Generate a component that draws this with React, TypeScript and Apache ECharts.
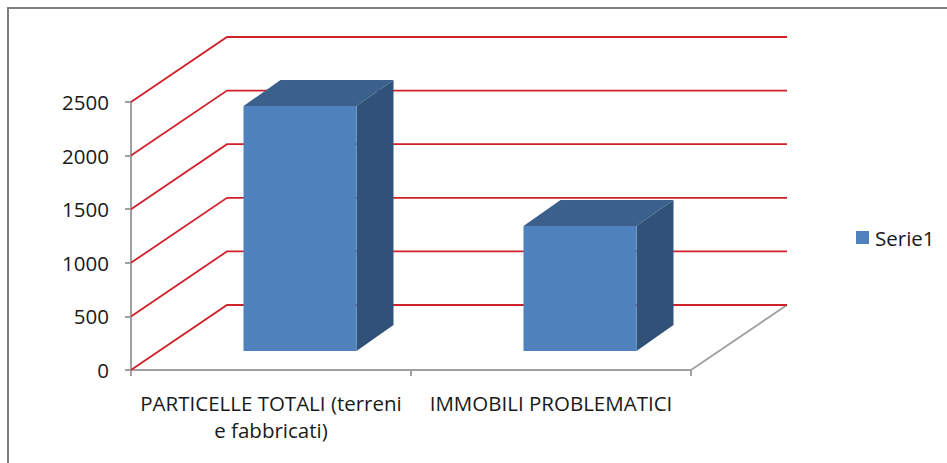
import React, { useEffect, useRef } from "react";
import * as echarts from "echarts";

const categories = ["PARTICELLE TOTALI (terreni\ne fabbricati)", "IMMOBILI PROBLEMATICI"];
const seriesName = "Serie1";
const seriesValues = [2285, 1165];
const gridValues = [0, 500, 1000, 1500, 2000, 2500];

// Oblique projection of the chart's depth axis, in pixels.
const WALL_DX = 96;
const WALL_DY = 65;
const BAR_SHIFT_DX = 29;
const BAR_SHIFT_DY = 19;
const BAR_DEPTH_DX = 37;
const BAR_DEPTH_DY = 26;
const BAR_WIDTH = 113;

const FRONT = "#4f81bd";
const TOP = "#3c608c";
const SIDE = "#315278";
const WALL_LINE = "#d0202a";
const AXIS_GREY = "#a0a0a0";
const TEXT_COLOR = "#1a1a1a";
const LABEL_FONT = "'Open Sans', sans-serif";

const renderWall = (params: any, api: any) => {
  const value = api.value(0);
  const cs = params.coordSys;
  const y = api.coord([0, value])[1];
  const xLeft = cs.x;
  const xRight = cs.x + cs.width;
  const children: any[] = [
    {
      type: "polyline",
      shape: {
        points: [
          [xLeft, y],
          [xLeft + WALL_DX, y - WALL_DY],
          [xRight + WALL_DX, y - WALL_DY],
        ],
      },
      style: { stroke: WALL_LINE, lineWidth: 1.8, fill: "none" },
    },
  ];
  if (value === 0) {
    children.unshift({
      type: "line",
      shape: { x1: xRight, y1: y, x2: xRight + WALL_DX, y2: y - WALL_DY },
      style: { stroke: AXIS_GREY, lineWidth: 1.8 },
    });
  }
  return { type: "group", children };
};

const renderBar = (params: any, api: any) => {
  const index = api.value(0);
  const value = api.value(1);
  const [cx, yBase] = api.coord([index, 0]);
  const yTop = api.coord([index, value])[1];
  const x0 = cx + BAR_SHIFT_DX - BAR_WIDTH / 2;
  const x1 = x0 + BAR_WIDTH;
  const top = yTop - BAR_SHIFT_DY;
  const bottom = yBase - BAR_SHIFT_DY;
  return {
    type: "group",
    children: [
      {
        type: "polygon",
        shape: {
          points: [
            [x0, top],
            [x0 + BAR_DEPTH_DX, top - BAR_DEPTH_DY],
            [x1 + BAR_DEPTH_DX, top - BAR_DEPTH_DY],
            [x1, top],
          ],
        },
        style: { fill: TOP },
      },
      {
        type: "polygon",
        shape: {
          points: [
            [x1, top],
            [x1 + BAR_DEPTH_DX, top - BAR_DEPTH_DY],
            [x1 + BAR_DEPTH_DX, bottom - BAR_DEPTH_DY],
            [x1, bottom],
          ],
        },
        style: { fill: SIDE },
      },
      { type: "rect", shape: { x: x0, y: top, width: BAR_WIDTH, height: bottom - top }, style: { fill: FRONT } },
    ],
  };
};

export default function App() {
  const ref = useRef<HTMLDivElement>(null);

  useEffect(() => {
    if (!ref.current) return;
    const chart = echarts.init(ref.current, undefined, { renderer: "svg" });
    chart.setOption({
      animation: false,
      backgroundColor: "#ffffff",
      grid: { left: 131, top: 102, width: 560, height: 268, containLabel: false },
      legend: {
        data: [{ name: seriesName, icon: "rect" }],
        left: 856,
        top: 227,
        padding: 0,
        itemWidth: 13,
        itemHeight: 13,
        itemGap: 0,
        textStyle: { fontFamily: LABEL_FONT, fontSize: 20.5, color: TEXT_COLOR, padding: [0, 0, 0, 1] },
      },
      xAxis: {
        type: "category",
        data: categories,
        axisLine: { lineStyle: { color: AXIS_GREY, width: 2 } },
        axisTick: { show: true, alignWithLabel: false, length: 6, lineStyle: { color: AXIS_GREY, width: 2 } },
        axisLabel: {
          fontFamily: LABEL_FONT,
          fontSize: 20.5,
          color: TEXT_COLOR,
          margin: 19,
          lineHeight: 27,
          interval: 0,
        },
      },
      yAxis: {
        type: "value",
        min: 0,
        max: 2500,
        interval: 500,
        splitLine: { show: false },
        axisLine: { show: true, lineStyle: { color: AXIS_GREY, width: 2 } },
        axisTick: { show: true, length: 6, lineStyle: { color: AXIS_GREY, width: 2 } },
        axisLabel: {
          fontFamily: LABEL_FONT,
          fontSize: 20.5,
          color: TEXT_COLOR,
          margin: 22,
          formatter: (v: number) => String(v),
        },
      },
      graphic: [
        {
          type: "polyline",
          shape: {
            points: [
              [8, 463],
              [8, 8],
              [947, 8],
            ],
          },
          style: { stroke: "#7f7f7f", lineWidth: 2, fill: "none" },
        },
      ],
      series: [
        {
          type: "custom",
          renderItem: renderWall,
          data: gridValues.map((v) => [v]),
          encode: { y: 0 },
          silent: true,
          z: 1,
        },
        {
          name: seriesName,
          type: "custom",
          renderItem: renderBar,
          data: seriesValues.map((v, i) => [i, v]),
          encode: { x: 0, y: 1 },
          itemStyle: { color: FRONT },
          z: 2,
        },
      ],
    });
    return () => chart.dispose();
  }, []);

  return <div ref={ref} style={{ width: 947, height: 463, position: "fixed", left: 0, top: 0 }} />;
}
